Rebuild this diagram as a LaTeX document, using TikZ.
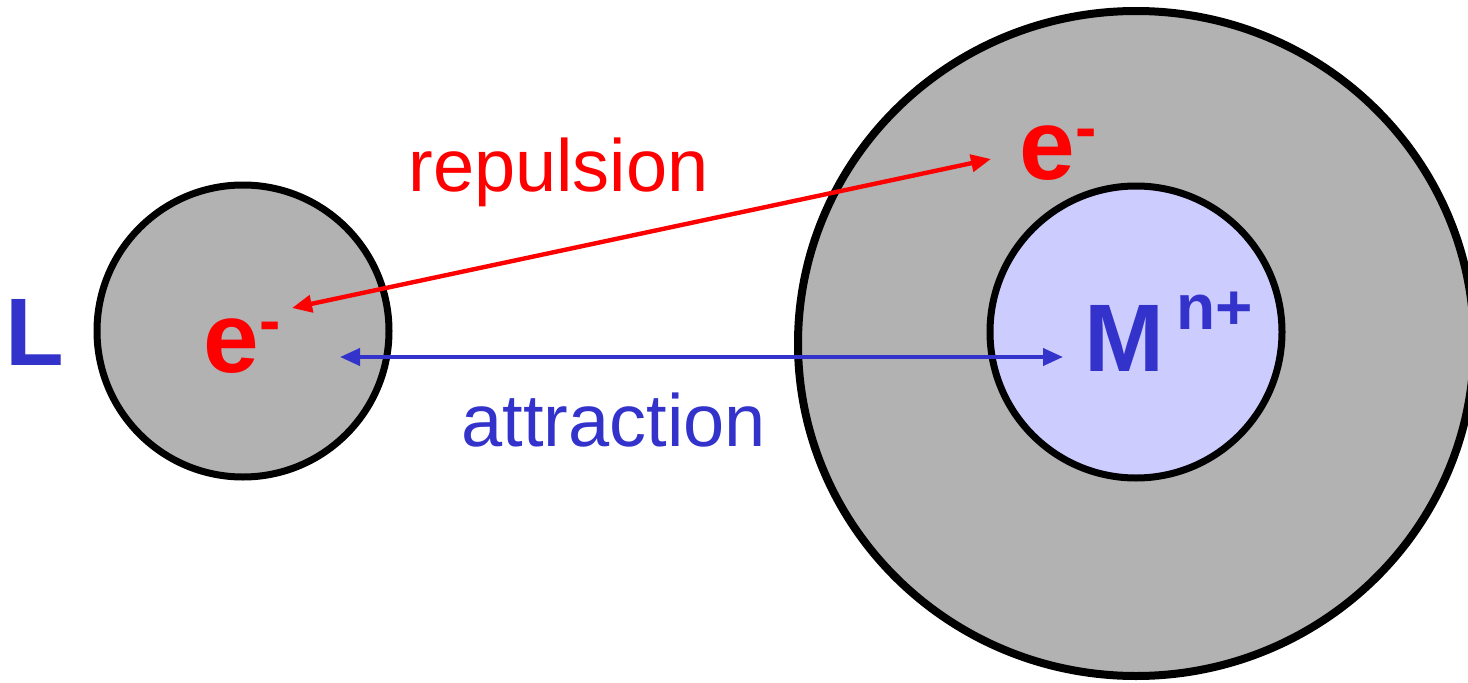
\documentclass[tikz,border=0pt]{standalone}
\usepackage{fontspec}
\setmainfont{Liberation Sans}
\usetikzlibrary{arrows.meta}
\definecolor{ebu}{HTML}{3333CC}
\definecolor{shell}{HTML}{B2B2B2}
\definecolor{core}{HTML}{CCCCFF}
\tikzset{
	orb/.style={draw=black, line width=3.5pt},
	lab/.style={anchor=base west, inner sep=0pt, font=\fontsize{37}{37}\selectfont},
	big/.style={anchor=base west, inner sep=0pt, font=\bfseries\fontsize{48}{48}\selectfont},
	>={Triangle[length=10pt,width=8.5pt]}
}
\begin{document}
\begin{tikzpicture}[x=0.5pt,y=0.5pt]
		\useasboundingbox (0,0) rectangle (1468,682);
		\draw[orb, fill=shell] (243,351) circle (146);
		\draw[orb, line width=4pt, fill=shell] (1136,338.5) ellipse (338 and 332.5);
		\draw[orb, fill=core] (1136,350) circle (146);
		\node[big, text=ebu] (lig) at (5,317) {L};
		\node[big, red, font=\bfseries\fontsize{50}{50}\selectfont] (el) at (203,310) {e\raisebox{15pt}{\fontsize{32}{32}\selectfont -}};
		\node[big, red, font=\bfseries\fontsize{50}{50}\selectfont] (em) at (1019,503) {e\raisebox{15pt}{\fontsize{32}{32}\selectfont -}};
		\node[big, text=ebu] (ion) at (1084,311) {M\hspace{6pt}\raisebox{21pt}{\fontsize{32}{32}\selectfont n+}};
		\node[lab, red] (rep) at (408,491) {repulsion};
		\node[lab, text=ebu] (att) at (461,236) {attraction};
		\coordinate (r1) at (292,374);
		\coordinate (r2) at (991,523);
		\coordinate (a1) at (340,325);
		\coordinate (a2) at (1063,325);
		\draw[red, line width=2.2pt, <->] (r1) -- (r2);
		\draw[ebu, line width=2pt, <->] (a1) -- (a2);
\end{tikzpicture}
\end{document}
